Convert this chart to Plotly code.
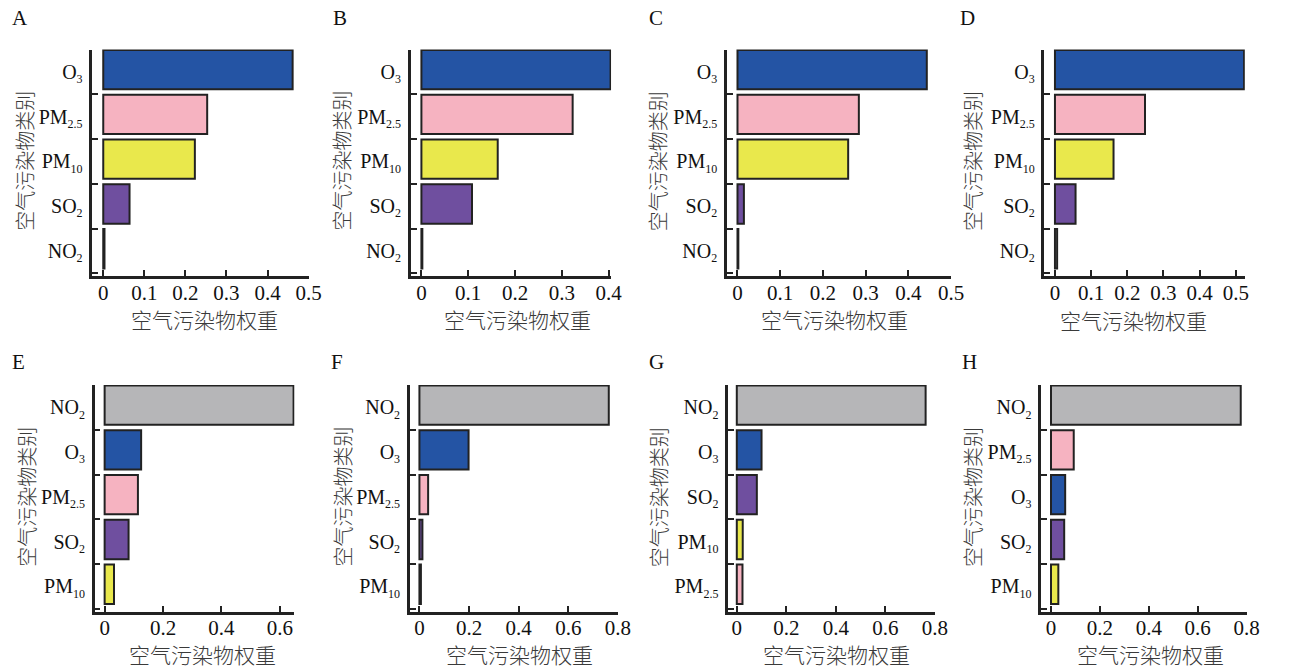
import plotly.graph_objects as go
from plotly.subplots import make_subplots

W, H = 1289, 669

# ---------------- data ----------------
panel_letters = ["A", "B", "C", "D", "E", "F", "G", "H"]

categories_A = ["O3", "PM2.5", "PM10", "SO2", "NO2"]
weights_A = [0.461, 0.253, 0.223, 0.064, 0.003]

categories_B = ["O3", "PM2.5", "PM10", "SO2", "NO2"]
weights_B = [0.404, 0.323, 0.163, 0.108, 0.002]

categories_C = ["O3", "PM2.5", "PM10", "SO2", "NO2"]
weights_C = [0.443, 0.284, 0.259, 0.015, 0.002]

categories_D = ["O3", "PM2.5", "PM10", "SO2", "NO2"]
weights_D = [0.523, 0.249, 0.162, 0.057, 0.006]

categories_E = ["NO2", "O3", "PM2.5", "SO2", "PM10"]
weights_E = [0.647, 0.125, 0.114, 0.082, 0.032]

categories_F = ["NO2", "O3", "PM2.5", "SO2", "PM10"]
weights_F = [0.763, 0.198, 0.035, 0.012, 0.006]

categories_G = ["NO2", "O3", "SO2", "PM10", "PM2.5"]
weights_G = [0.763, 0.100, 0.081, 0.024, 0.023]

categories_H = ["NO2", "PM2.5", "O3", "SO2", "PM10"]
weights_H = [0.776, 0.093, 0.058, 0.054, 0.030]

tick_steps = [0.1, 0.1, 0.1, 0.1, 0.2, 0.2, 0.2, 0.2]

x_title = "空气污染物权重"
y_title = "空气污染物类别"

# ---------------- styles ----------------
SUB = '<sub><span style="font-size:12px">{}</span></sub>'
pollutant_labels = {
    "O3": "O" + SUB.format("3"),
    "PM2.5": "PM" + SUB.format("2.5"),
    "PM10": "PM" + SUB.format("10"),
    "SO2": "SO" + SUB.format("2"),
    "NO2": "NO" + SUB.format("2"),
}
pollutant_colors = {
    "O3": "#2454a4",
    "PM2.5": "#f6b3c1",
    "PM10": "#e9e84c",
    "SO2": "#6f4f9f",
    "NO2": "#b6b6b8",
}

all_categories = [categories_A, categories_B, categories_C, categories_D,
                  categories_E, categories_F, categories_G, categories_H]
all_weights = [weights_A, weights_B, weights_C, weights_D,
               weights_E, weights_F, weights_G, weights_H]

# panel geometry (pixels): zero position, px per unit, x range
zero_px = [104.3, 425.7, 745.0, 1065.7, 105.7, 423.7, 744.3, 1061.7]
px_per_unit = [415.0, 473.0, 431.7, 365.3, 295.0, 250.7, 250.0, 247.0]
x_ranges = [(-0.0265, 0.5), (-0.0226, 0.405), (-0.0247, 0.5), (-0.029, 0.525),
            (-0.034, 0.65), (-0.0386, 0.8), (-0.035, 0.8), (-0.040, 0.8)]
row_px = [(49.5, 276.0), (385.0, 611.5)]

letter_pos = [(19.7, 18), (343, 18), (663, 18), (977, 18),
              (19, 362), (340, 362), (663, 362), (979, 362)]
ytitle_pos = [(25, 161), (345, 161), (665, 161), (983, 161),
              (26, 497), (345, 497), (665, 497), (982, 497)]
xtitle_pos = [(206.5, 319), (522.5, 319), (842.5, 319), (1145, 320),
              (205, 654), (525, 654), (845, 654), (1162, 654)]

SERIF = "Liberation Serif, Times New Roman, serif"
CJK = "Noto Sans CJK SC, Noto Sans CJK JP, sans-serif"
AX = "#222222"

fig = make_subplots(rows=2, cols=4)

for i in range(8):
    cats = all_categories[i]
    vals = all_weights[i]
    r, c = i // 4 + 1, i % 4 + 1
    fig.add_trace(
        go.Bar(
            orientation="h",
            y=cats,
            x=vals,
            width=0.88,
            offset=-0.49,
            marker=dict(color=[pollutant_colors[k] for k in cats],
                        line=dict(color=AX, width=2)),
            hoverinfo="skip",
            showlegend=False,
        ),
        row=r, col=c,
    )
    x0, x1 = x_ranges[i]
    left = zero_px[i] + x0 * px_per_unit[i]
    right = zero_px[i] + x1 * px_per_unit[i]
    top, bottom = row_px[r - 1]
    n = i + 1
    xa = "xaxis" if n == 1 else f"xaxis{n}"
    ya = "yaxis" if n == 1 else f"yaxis{n}"
    fig.layout[xa].update(
        domain=[left / W, right / W],
        range=[x0, x1],
        tick0=0, dtick=tick_steps[i],
        ticks="inside", ticklen=6, tickwidth=2, tickcolor=AX,
        showline=True, linewidth=2.5, linecolor=AX,
        showgrid=False, zeroline=False,
        ticklabelstandoff=-4,
        tickfont=dict(family=SERIF, size=21, color="#111"),
        fixedrange=True,
    )
    fig.layout[ya].update(
        domain=[1 - bottom / H, 1 - top / H],
        type="category",
        categoryorder="array", categoryarray=cats,
        range=[4.56, -0.5],
        tickmode="array", tickvals=cats, ticktext=[pollutant_labels[k] for k in cats],
        tickson="boundaries",
        ticks="inside", ticklen=6, tickwidth=2, tickcolor=AX,
        showline=True, linewidth=2.5, linecolor=AX,
        showgrid=False, zeroline=False,
        ticklabelstandoff=3,
        tickfont=dict(family=SERIF, size=20, color="#111"),
        fixedrange=True,
    )

    lx, ly = letter_pos[i]
    fig.add_annotation(x=lx / W, y=1 - ly / H, xref="paper", yref="paper",
                       text=panel_letters[i], showarrow=False,
                       xanchor="center", yanchor="middle",
                       font=dict(family=SERIF, size=21, color="#111"))
    tx, ty = ytitle_pos[i]
    fig.add_annotation(x=tx / W, y=1 - ty / H, xref="paper", yref="paper",
                       text=y_title, showarrow=False, textangle=-90,
                       xanchor="center", yanchor="middle",
                       font=dict(family=CJK, size=20, color="#3a3a3a", weight=300))
    bx, by = xtitle_pos[i]
    fig.add_annotation(x=bx / W, y=1 - by / H, xref="paper", yref="paper",
                       text=x_title, showarrow=False,
                       xanchor="center", yanchor="middle",
                       font=dict(family=CJK, size=21, color="#3a3a3a", weight=300))

fig.update_layout(
    width=W, height=H, autosize=False,
    margin=dict(l=0, r=0, t=0, b=0),
    paper_bgcolor="white", plot_bgcolor="white",
    bargap=0.1,
    showlegend=False,
)

fig.write_html("out.html")
